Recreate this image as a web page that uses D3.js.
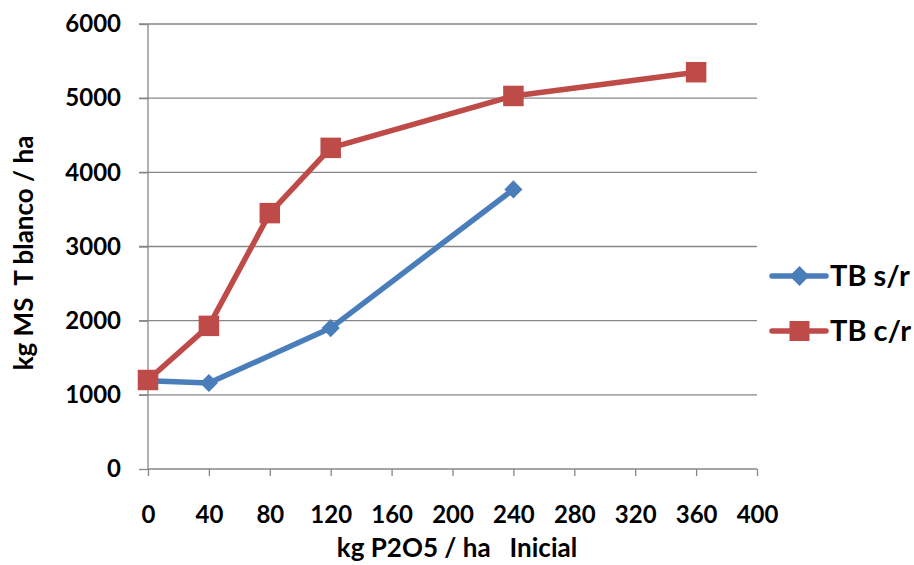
<!DOCTYPE html>
<html>
<head>
<meta charset="utf-8">
<script src="https://cdn.jsdelivr.net/npm/d3@7"></script>
<style>
  body { margin: 0; background: #fff; }
  text { font-family: Lato, "Open Sans", sans-serif; font-weight: bold; fill: #000; }
</style>
</head>
<body>
<div class="canvas"></div>
<script>
// data
const doses = [0, 40, 80, 120, 240, 360];
const tbSR = [1190, 1160, null, 1900, 3770, null];
const tbCR = [1200, 1930, 3450, 4330, 5030, 5350];
const seriesNames = ["TB s/r", "TB c/r"];
const xTicks = [0, 40, 80, 120, 160, 200, 240, 280, 320, 360, 400];
const yTicks = [0, 1000, 2000, 3000, 4000, 5000, 6000];

const blue = "#4a7ebb";
const red = "#be4b48";
const gridColor = "#878787";

const margin = { top: 24, left: 148 };
const graphWidth = 757 - 148;
const graphHeight = 469 - 24;

const svg = d3.select(".canvas").append("svg")
  .attr("width", 914)
  .attr("height", 565);

const graph = svg.append("g")
  .attr("transform", `translate(${margin.left}, ${margin.top})`);

// scales
const x = d3.scaleLinear().domain([0, 400]).range([0, graphWidth]);
const y = d3.scaleLinear().domain([0, 6000]).range([graphHeight, 0]);

// gridlines
graph.append("g")
  .selectAll("line")
  .data(yTicks.filter(d => d > 0))
  .enter().append("line")
  .attr("x1", -9)
  .attr("x2", graphWidth)
  .attr("y1", d => y(d))
  .attr("y2", d => y(d))
  .attr("stroke", gridColor)
  .attr("stroke-width", 1.3);

// axes
const xAxis = d3.axisBottom(x).tickValues(xTicks).tickSize(7).tickPadding(30);
const yAxis = d3.axisLeft(y).tickValues(yTicks).tickSize(9).tickPadding(18)
  .tickFormat(d3.format("d"));

const xAxisGroup = graph.append("g")
  .attr("transform", `translate(0, ${graphHeight})`)
  .call(xAxis);
const yAxisGroup = graph.append("g").call(yAxis);

[xAxisGroup, yAxisGroup].forEach(g => {
  g.select(".domain").attr("stroke", gridColor).attr("stroke-width", 1.3);
  g.selectAll(".tick line").attr("stroke", gridColor).attr("stroke-width", 1.3);
  g.selectAll("text").style("font-size", "24px").attr("fill", "#000");
});
yAxisGroup.select(".domain").attr("d", `M0,0V${graphHeight}`);
xAxisGroup.select(".domain").attr("d", `M0,0H${graphWidth}`);

// lines
const line = d3.line()
  .x(d => x(d.x))
  .y(d => y(d.v));

const toPts = vals => doses.map((d, i) => ({ x: d, v: vals[i] })).filter(d => d.v != null);
const srPts = toPts(tbSR);
const crPts = toPts(tbCR);

graph.append("path")
  .datum(srPts)
  .attr("fill", "none")
  .attr("stroke", blue)
  .attr("stroke-width", 5.5)
  .attr("stroke-linejoin", "round")
  .attr("d", line);

graph.append("path")
  .datum(crPts)
  .attr("fill", "none")
  .attr("stroke", red)
  .attr("stroke-width", 5.5)
  .attr("stroke-linejoin", "round")
  .attr("d", line);

const diamond = d3.symbol().type(d3.symbolDiamond2).size(210);
const square = d3.symbol().type(d3.symbolSquare).size(420);

graph.selectAll(".sr")
  .data(srPts)
  .enter().append("path")
  .attr("class", "sr")
  .attr("d", diamond)
  .attr("fill", blue)
  .attr("transform", d => `translate(${x(d.x)}, ${y(d.v)})`);

graph.selectAll(".cr")
  .data(crPts)
  .enter().append("path")
  .attr("class", "cr")
  .attr("d", square)
  .attr("fill", red)
  .attr("transform", d => `translate(${x(d.x)}, ${y(d.v)})`);

// legend
const legend = svg.append("g");
[[blue, d3.symbol().type(d3.symbolDiamond2).size(250), 276],
 [red, d3.symbol().type(d3.symbolSquare).size(400), 331]].forEach(([c, sym, ly], i) => {
  legend.append("line")
    .attr("x1", 772).attr("x2", 826)
    .attr("y1", ly).attr("y2", ly)
    .attr("stroke", c).attr("stroke-width", 5.5)
    .attr("stroke-linecap", "round");
  legend.append("path")
    .attr("d", sym)
    .attr("fill", c)
    .attr("transform", `translate(799.5, ${ly})`);
  legend.append("text")
    .attr("x", 830)
    .attr("y", ly + 10)
    .style("font-size", "29px")
    .text(seriesNames[i]);
});

// axis titles
svg.append("text")
  .attr("transform", "translate(33, 253) rotate(-90)")
  .attr("text-anchor", "middle")
  .style("font-size", "26px")
  .attr("xml:space", "preserve")
  .text("kg MS  T blanco / ha");

svg.append("text")
  .attr("x", 457)
  .attr("y", 557)
  .attr("text-anchor", "middle")
  .style("font-size", "26px")
  .attr("xml:space", "preserve")
  .text("kg P2O5 / ha   Inicial");
</script>
</body>
</html>
